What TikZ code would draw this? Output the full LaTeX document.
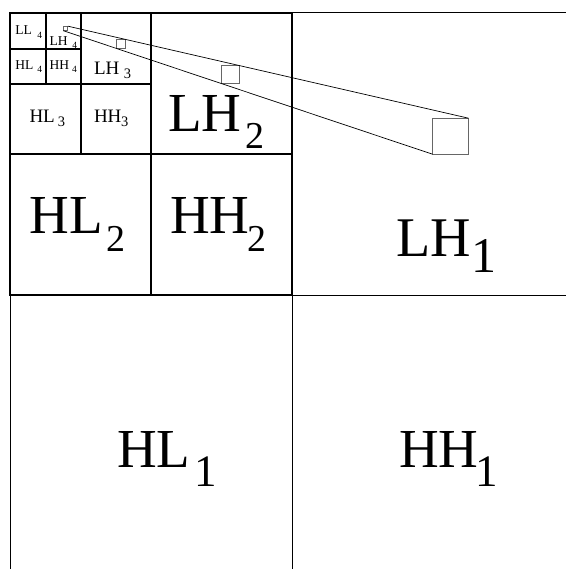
\documentclass[tikz,border=0pt]{standalone}
\usepackage{fontspec}
\setmainfont{Liberation Serif}
\begin{document}
\begin{tikzpicture}[x=1pt,y=-1pt,
  thick grid/.style={line width=1.5pt, black, line cap=rect},
  thin grid/.style={line width=1.0pt, black},
  zbox/.style={draw=black!60, line width=0.7pt, inner sep=0pt, outer sep=0pt, minimum size=#1, fill=none},
  ray/.style={line width=0.7pt, black},
  lbl/.style={anchor=base west, inner sep=0pt, outer sep=0pt},
  big/.style={lbl, font=\fontsize{55}{55}\selectfont},
  mid/.style={lbl, font=\fontsize{19}{19}\selectfont},
  small/.style={lbl, font=\fontsize{13.5}{13.5}\selectfont},
  sub/.style={lbl, font=\fontsize{#1}{#1}\selectfont}]
\useasboundingbox (0,0) rectangle (566,569);
\fill[white] (0,0) rectangle (566,569);
% level 1 (outer, thinner)
\draw[thin grid] (292,13) -- (566,13);
\draw[thin grid] (10,295) -- (10,569);
\draw[thin grid] (292,295) -- (292,569);
\draw[thin grid] (292,295) -- (566,295);
% level 1 / 2 boundary (thick)
\draw[thick grid] (10,13) -- (292,13);
\draw[thick grid] (10,13) -- (10,295);
\draw[thick grid] (292,13) -- (292,295);
\draw[thick grid] (10,295) -- (292,295);
% level 2
\draw[thick grid] (151,13) -- (151,295);
\draw[thick grid] (10,154) -- (292,154);
% level 3
\draw[thick grid] (81,13) -- (81,154);
\draw[thick grid] (10,84) -- (151,84);
% level 4
\draw[thick grid] (46,13) -- (46,84);
\draw[thick grid] (10,49) -- (81,49);

% zoom squares
\node[zbox=4.5pt] (s1) at (65.5,28.4) {};
\node[zbox=9pt]   (s2) at (120.5,43.5) {};
\node[zbox=18pt]  (s3) at (230.4,74.7) {};
\node[zbox=36pt]  (s4) at (450.5,136.2) {};
\draw[ray] (s1.north east) -- (s4.north east);
\draw[ray] (s1.south west) -- (s4.south west);

% level 1 labels
\node[big, font=\fontsize{56}{56}\selectfont] (LH1) at (396,256) {LH};
\node[sub=50] (LH1s) at (471,272) {1};
\node[big] (HL1) at (117,467.7) {HL};
\node[sub=45] (HL1s) at (194.6,486.5) {1};
\node[big] (HH1) at (399,467.7) {HH};
\node[sub=45] (HH1s) at (475,486.5) {1};
% level 2 labels
\node[big] (LH2) at (168,131.7) {LH};
\node[sub=38] (LH2s) at (245.7,149) {2};
\node[big] (HL2) at (29.3,233.3) {HL};
\node[sub=38] (HL2s) at (106.7,251) {2};
\node[big] (HH2) at (170,233.3) {HH};
\node[sub=38] (HH2s) at (247,251) {2};
% level 3 labels
\node[mid] (LH3) at (94,74.5) {LH};
\node[sub=14.5] (LH3s) at (123.8,78.3) {3};
\node[mid] (HL3) at (29.5,122.7) {HL};
\node[sub=14.5] (HL3s) at (57.8,126.7) {3};
\node[mid] (HH3) at (94,122.7) {HH};
\node[sub=14.5] (HH3s) at (121.2,126.7) {3};
% level 4 labels
\node[small] (LL4) at (15.3,34.5) {LL};
\node[sub=9.5] (LL4s) at (37.3,39) {4};
\node[small] (LH4) at (49.7,46) {LH};
\node[sub=9.5] (LH4s) at (72.3,48.3) {4};
\node[small] (HL4) at (15.3,70) {HL};
\node[sub=9.5] (HL4s) at (37.3,73) {4};
\node[small] (HH4) at (49.7,70) {HH};
\node[sub=9.5] (HH4s) at (72,73) {4};
\end{tikzpicture}
\end{document}
